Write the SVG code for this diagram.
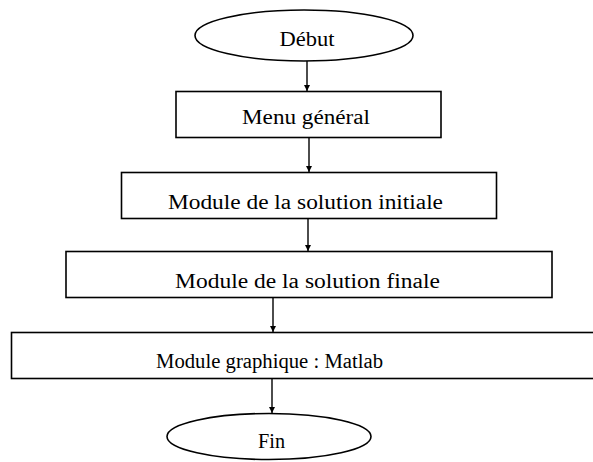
<svg xmlns="http://www.w3.org/2000/svg" width="593" height="462" viewBox="0 0 593 462">
<style>
.shape{fill:#fff;stroke:#000;stroke-width:1.6}
.lbl{font-family:"Liberation Serif","Times New Roman",serif;font-size:20px;fill:#000;text-anchor:middle}
.conn{stroke:#000;stroke-width:1.4;fill:none;marker-end:url(#ah)}
</style>
<defs>
<marker id="ah" viewBox="0 0 10 10" refX="10" refY="5" markerWidth="6" markerHeight="6" markerUnits="userSpaceOnUse" orient="auto">
<path d="M0,0 L10,5 L0,10 z" fill="#000"/>
</marker>
</defs>
<rect width="593" height="462" fill="#fff"/>
<g id="connectors">
<line class="conn" x1="307" y1="61" x2="307" y2="91"/>
<line class="conn" x1="309" y1="138" x2="309" y2="172"/>
<line class="conn" x1="308" y1="219" x2="308" y2="251"/>
<line class="conn" x1="273" y1="298" x2="273" y2="332"/>
<line class="conn" x1="272" y1="379" x2="272" y2="413"/>
</g>
<g id="debut">
<ellipse class="shape" cx="304" cy="35.5" rx="109" ry="25.5"/>
<text class="lbl" x="307" y="46" textLength="55" lengthAdjust="spacingAndGlyphs">Début</text>
</g>
<g id="menu">
<rect class="shape" x="176" y="91.5" width="265" height="46"/>
<text class="lbl" x="306" y="124" textLength="128" lengthAdjust="spacingAndGlyphs">Menu général</text>
</g>
<g id="initiale">
<rect class="shape" x="121.5" y="172.5" width="375" height="46"/>
<text class="lbl" x="305.5" y="209" textLength="275" lengthAdjust="spacingAndGlyphs">Module de la solution initiale</text>
</g>
<g id="finale">
<rect class="shape" x="66" y="251.5" width="486" height="46"/>
<text class="lbl" x="307.5" y="288" textLength="265" lengthAdjust="spacingAndGlyphs">Module de la solution finale</text>
</g>
<g id="graphique">
<rect class="shape" x="11.5" y="332.5" width="585" height="46"/>
<text class="lbl" x="269.5" y="368" textLength="227" lengthAdjust="spacingAndGlyphs">Module graphique : Matlab</text>
</g>
<g id="fin">
<ellipse class="shape" cx="269" cy="436.5" rx="102" ry="23"/>
<text class="lbl" x="271.5" y="448" textLength="27" lengthAdjust="spacingAndGlyphs">Fin</text>
</g>
</svg>
